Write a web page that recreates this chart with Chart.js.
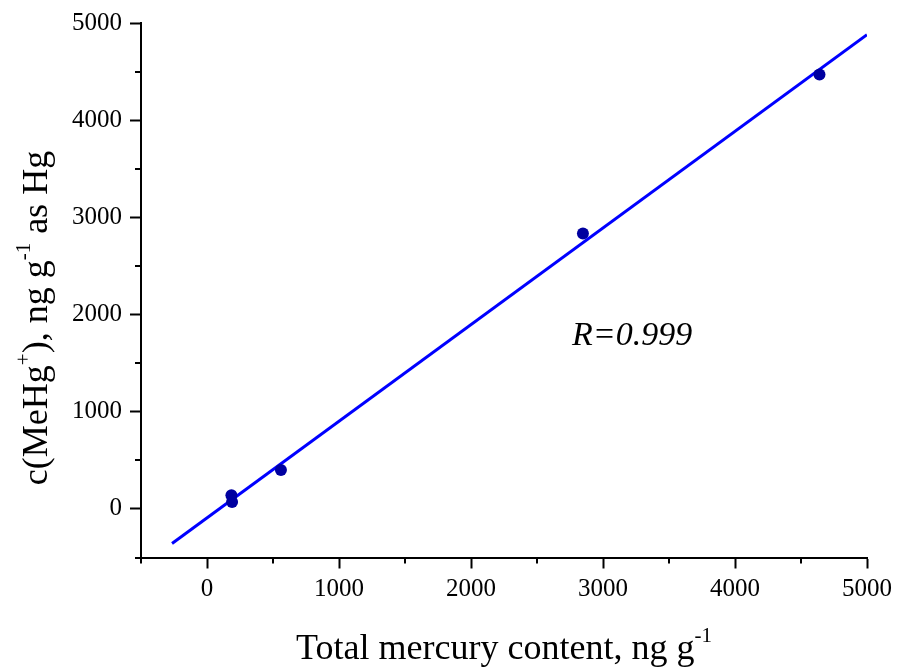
<!DOCTYPE html>
<html>
<head>
<meta charset="utf-8">
<script src="https://cdn.jsdelivr.net/npm/chart.js@4/dist/chart.umd.min.js"></script>
<style>
  html, body { margin: 0; padding: 0; background: #fff; }
  #wrap { width: 898px; height: 667px; }
</style>
</head>
<body>
<div id="wrap"><canvas id="c" width="898" height="667"></canvas></div>
<script>
// Measured samples: total mercury vs. methylmercury (ng/g, as Hg)
const totalHg = [185, 190, 560, 2848, 4640];
const meHg    = [140, 70, 400, 2835, 4470];

// Range over which the regression line is drawn
const fitRange = [-265, 5000];

// Axis tick values (labelled and unlabelled)
const majorTicks = [0, 1000, 2000, 3000, 4000, 5000];
const axisMin = -500, axisMax = 5000, minorStep = 500;

const SERIF = '"Liberation Serif", "Times New Roman", Times, serif';

// Least-squares fit through the samples
function linearFit(xs, ys) {
  const n = xs.length;
  const mx = xs.reduce((a, b) => a + b, 0) / n;
  const my = ys.reduce((a, b) => a + b, 0) / n;
  let sxy = 0, sxx = 0;
  for (let i = 0; i < n; i++) {
    sxy += (xs[i] - mx) * (ys[i] - my);
    sxx += (xs[i] - mx) * (xs[i] - mx);
  }
  const slope = sxy / sxx;
  return { slope, intercept: my - slope * mx };
}
const fit = linearFit(totalHg, meHg);

const samplePoints = totalHg.map((x, i) => ({ x, y: meHg[i] }));
const fitPoints = fitRange.map(x => ({ x, y: fit.slope * x + fit.intercept }));

const isMajor = v => majorTicks.includes(v);

// Draws a run of text pieces, some of them raised as superscripts
function drawRich(ctx, pieces, x, y) {
  let total = 0;
  pieces.forEach(p => {
    ctx.font = (p.italic ? 'italic ' : '') + p.size + 'px ' + SERIF;
    p.w = ctx.measureText(p.text).width;
    total += p.w;
  });
  let cx = x - total / 2;
  ctx.textAlign = 'left';
  ctx.textBaseline = 'alphabetic';
  pieces.forEach(p => {
    ctx.font = (p.italic ? 'italic ' : '') + p.size + 'px ' + SERIF;
    ctx.fillText(p.text, cx, y - (p.rise || 0));
    cx += p.w;
  });
}

const decorations = {
  id: 'decorations',
  afterDraw(chart) {
    const ctx = chart.ctx;
    const xs = chart.scales.x, ys = chart.scales.y;
    const area = chart.chartArea;
    ctx.save();
    ctx.fillStyle = '#000';
    ctx.strokeStyle = '#000';
    ctx.lineWidth = 2;

    // short unlabelled ticks
    const minorLen = 6;
    for (let v = axisMin; v <= axisMax; v += minorStep) {
      if (isMajor(v)) continue;
      const px = Math.round(xs.getPixelForValue(v));
      ctx.beginPath();
      ctx.moveTo(px, area.bottom);
      ctx.lineTo(px, area.bottom + minorLen);
      ctx.stroke();
      const py = Math.round(ys.getPixelForValue(v));
      ctx.beginPath();
      ctx.moveTo(area.left, py);
      ctx.lineTo(area.left - minorLen, py);
      ctx.stroke();
    }

    // x-axis title
    drawRich(ctx, [
      { text: 'Total mercury content, ng g', size: 36 },
      { text: '-1', size: 21, rise: 17 }
    ], (area.left + area.right) / 2, 659);

    // y-axis title (rotated)
    ctx.save();
    ctx.translate(47, 318);
    ctx.rotate(-Math.PI / 2);
    drawRich(ctx, [
      { text: 'c(MeHg', size: 36 },
      { text: '+', size: 21, rise: 17 },
      { text: '), ng g', size: 36 },
      { text: '-1', size: 21, rise: 17 },
      { text: ' as Hg', size: 36 }
    ], 0, 0);
    ctx.restore();

    // correlation coefficient
    drawRich(ctx, [{ text: 'R=0.999', size: 34, italic: true }],
      xs.getPixelForValue(3220), ys.getPixelForValue(1686));

    ctx.restore();
  }
};

const axisCommon = {
  type: 'linear',
  min: axisMin,
  max: axisMax,
  ticks: {
    stepSize: minorStep,
    autoSkip: false,
    maxRotation: 0,
    color: '#000',
    font: { family: SERIF, size: 25 },
    callback: v => (isMajor(v) ? String(v) : '')
  },
  grid: {
    drawOnChartArea: false,
    drawTicks: true,
    tickLength: 11,
    tickWidth: 2,
    tickColor: c => (c.tick && isMajor(c.tick.value) ? '#000' : 'rgba(0,0,0,0)')
  },
  border: { display: true, color: '#000', width: 2 }
};

new Chart(document.getElementById('c'), {
  type: 'scatter',
  data: {
    datasets: [
      {
        label: 'samples',
        data: samplePoints,
        pointRadius: 6,
        pointBackgroundColor: '#0000a0',
        pointBorderColor: '#0000a0',
        pointBorderWidth: 0,
        showLine: false,
        order: 1
      },
      {
        label: 'fit',
        data: fitPoints,
        showLine: true,
        borderColor: '#0000ff',
        borderWidth: 3,
        pointRadius: 0,
        fill: false,
        order: 2
      }
    ]
  },
  options: {
    responsive: false,
    animation: false,
    devicePixelRatio: 1,
    layout: { padding: { left: 0, right: 31, top: 22, bottom: 0 } },
    plugins: { legend: { display: false }, tooltip: { enabled: false } },
    scales: {
      x: Object.assign({}, axisCommon, {
        position: 'bottom',
        ticks: Object.assign({}, axisCommon.ticks, { padding: 6 }),
        afterFit(s) { s.height = 109.5; }
      }),
      y: Object.assign({}, axisCommon, {
        position: 'left',
        ticks: Object.assign({}, axisCommon.ticks, { padding: 8 }),
        afterFit(s) { s.width = 141; }
      })
    }
  },
  plugins: [decorations]
});
</script>
</body>
</html>
